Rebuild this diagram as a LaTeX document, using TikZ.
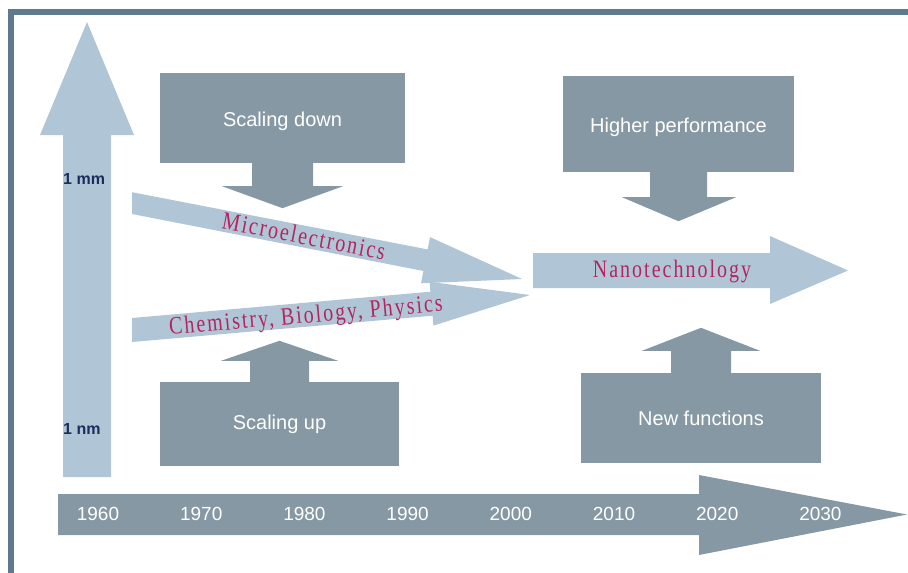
\documentclass[tikz,border=0pt]{standalone}
\usepackage{fontspec}
\setmainfont{Liberation Sans}
\newfontfamily\fieldfont[FakeStretch=0.8,LetterSpace=8]{Liberation Serif}
\definecolor{paleblue}{HTML}{B0C6D7}
\definecolor{boxgray}{HTML}{8698A3}
\definecolor{framecol}{HTML}{5E7A8E}
\definecolor{fieldred}{HTML}{B5245E}
\definecolor{navy}{HTML}{1B2D5A}

\begin{document}
\begin{tikzpicture}[x=1pt,y=-1pt,
  box/.style={fill=boxgray, text=white, inner sep=0pt, font=\fontsize{20}{24}\selectfont},
  field/.style={text=fieldred, inner sep=0pt, font=\fontsize{25}{29}\fieldfont},
  year/.style={text=white, inner sep=0pt, font=\fontsize{19}{22}\selectfont},
  scalelabel/.style={text=navy, anchor=base west, inner sep=0pt, font=\fontsize{16}{19}\selectfont\bfseries}]
  \useasboundingbox (0,0) rectangle (908,573);
  \fill[framecol] (8,9) rectangle (908,15);
  \fill[framecol] (8,9) rectangle (14,573);
  \fill[paleblue] (63,477) -- (63,135) -- (40,135) -- (87,22) -- (134,135) -- (111,135) -- (111,477) -- cycle;
  \fill[boxgray] (58,494) -- (699,494) -- (699,475) -- (907,514.5) -- (699,555) -- (699,535) -- (58,535) -- cycle;
  \fill[paleblue] (132,192.2) -- (427.6,249.4) -- (430,237.1) -- (522,279) -- (421,283.3) -- (423.4,271) -- (132,214) -- cycle;
  \fill[paleblue] (132,318) -- (430.4,291.7) -- (429.6,281.8) -- (530,295) -- (433.4,325.6) -- (432.6,315.7) -- (132,342) -- cycle;
  \fill[paleblue] (533,253) -- (770,253) -- (770,236) -- (848,270.5) -- (770,304) -- (770,288) -- (533,288) -- cycle;
  \node[box, minimum width=245, minimum height=90, text height=21] (down) at (282.5,118) {Scaling down};
  \node[box, minimum width=231, minimum height=96, text height=21] (perf) at (678.5,124) {Higher performance};
  \node[box, minimum width=239, minimum height=84] (up) at (279.5,424) {Scaling up};
  \node[box, minimum width=240, minimum height=90] (func) at (701,418) {New functions};
  \fill[boxgray] (down.south) ++(-30.5,0) -- ++(0,23) -- ++(-30,0) -- ++(60.5,22) -- ++(60.5,-22) -- ++(-30,0) -- ++(0,-23) -- cycle;
  \fill[boxgray] (perf.south) ++(-28.5,0) -- ++(0,25) -- ++(-28,0) -- ++(56.5,24) -- ++(57.5,-24) -- ++(-29,0) -- ++(0,-25) -- cycle;
  \fill[boxgray] (up.north) ++(-29.5,0) -- ++(0,-21) -- ++(-29,0) -- ++(58.5,-20) -- ++(58.5,20) -- ++(-29,0) -- ++(0,21) -- cycle;
  \fill[boxgray] (func.north) ++(-30,0) -- ++(0,-22) -- ++(-29,0) -- ++(59,-23) -- ++(59,23) -- ++(-29,0) -- ++(0,22) -- cycle;
  \node[field, rotate=-11] (micro) at (304,236) {Microelectronics};
  \node[field, rotate=5] (chem) at (306,317) {Chemistry, Biology, Physics};
  \node[field] (nano) at (672,271.5) {Nanotechnology};
  \node[scalelabel] (mm) at (63,184) {1 mm};
  \node[scalelabel] (nm) at (63,434) {1 nm};
  \foreach \yr [count=\i from 0] in {1960,1970,...,2030}
    \node[year] (y\yr) at (98+103.2*\i,513.7) {\yr};
\end{tikzpicture}
\end{document}
